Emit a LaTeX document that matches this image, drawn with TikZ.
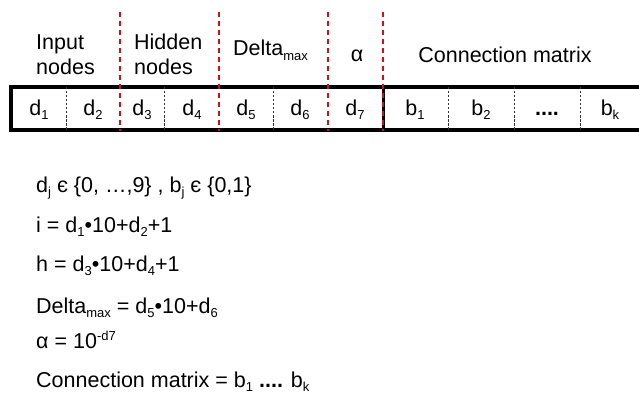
\documentclass[tikz,border=0pt]{standalone}
\usepackage{fontspec}
\setmainfont{Liberation Sans}
\newcommand\sbs[1]{\raisebox{-0.22em}{\fontsize{13}{13}\selectfont #1}}
\newcommand\sps[1]{\raisebox{0.37em}{\fontsize{13}{13}\selectfont #1}}
\definecolor{redline}{RGB}{204,16,24}
\tikzset{
  txt/.style={inner sep=0pt, font=\fontsize{21.5}{25}\selectfont},
  lbl/.style={txt, anchor=base west, align=left},
  cell/.style={txt, anchor=base},
  frame/.style={line width=3.5pt, black},
  cellsep/.style={line width=0.8pt, black!80, dash pattern=on 2.5pt off 1.5pt},
  groupsep/.style={line width=2pt, redline, dash pattern=on 5pt off 4pt},
}
\begin{document}
\begin{tikzpicture}[x=1pt,y=-1pt]
\useasboundingbox (0,0) rectangle (639,393);
% box frame
\coordinate (tl) at (11,87);
\coordinate (tr) at (650,87);
\coordinate (bl) at (11,130);
\coordinate (br) at (650,130);
\draw[frame] (tr) -- (tl) -- (bl) -- (br);
% cell separators
\foreach \x/\n in {66/a,164/b,273/c,448/d,514/e,580/f}{
  \coordinate (s\n t) at (\x,87);
  \coordinate (s\n b) at (\x,130);
  \draw[cellsep] (s\n t) -- (s\n b);
}
\coordinate (kt) at (383,87);
\coordinate (kb) at (383,130);
\draw[line width=3pt] (kt) -- (kb);
% group separators
\foreach \x/\n in {120/a,219/b,328/c,383/d}{
  \coordinate (g\n t) at (\x,12);
  \coordinate (g\n b) at (\x,131);
  \draw[groupsep] (g\n t) -- (g\n b);
}
% group labels
\node[lbl] (input) at (36,75) {Input\\nodes};
\node[lbl] (hidden) at (134,75) {Hidden\\nodes};
\node[lbl] (delta) at (233,56) {Delta\sbs{max}};
\node[cell] (alpha) at (357,62) {α};
\node[cell] (conn) at (505,63) {Connection matrix};
% cell labels
\node[cell] (d1) at (39,115) {d\sbs{1}};
\node[cell] (d2) at (93,115) {d\sbs{2}};
\node[cell] (d3) at (142,115) {d\sbs{3}};
\node[cell] (d4) at (192,115) {d\sbs{4}};
\node[cell] (d5) at (246,115) {d\sbs{5}};
\node[cell] (d6) at (300,115) {d\sbs{6}};
\node[cell] (d7) at (355,115) {d\sbs{7}};
\node[cell] (b1) at (415,115) {b\sbs{1}};
\node[cell] (b2) at (481,115) {b\sbs{2}};
\node[cell] (bd) at (547,115) {\textbf{....}};
\node[cell] (bk) at (610,115) {b\sbs{k}};
% formulas
\node[lbl] (f1) at (36,192) {d\sbs{j} є \{0, …,9\} , b\sbs{j} є \{0,1\}};
\node[lbl] (f2) at (36,232) {i = d\sbs{1}•10+d\sbs{2}+1};
\node[lbl] (f3) at (36,271) {h = d\sbs{3}•10+d\sbs{4}+1};
\node[lbl] (f4) at (36,313) {Delta\sbs{max} = d\sbs{5}•10+d\sbs{6}};
\node[lbl] (f5) at (36,348) {α = 10\sps{-d7}};
\node[lbl] (f6) at (36,387) {Connection matrix = b\sbs{1} \textbf{....} b\sbs{k}};
\end{tikzpicture}
\end{document}
